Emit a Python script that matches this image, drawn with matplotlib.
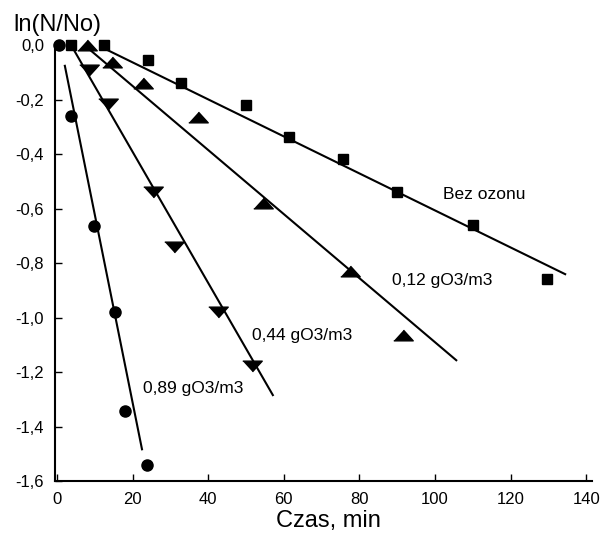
import matplotlib.pyplot as plt
from matplotlib.ticker import FuncFormatter

plt.rcParams['font.family'] = ['Liberation Sans', 'DejaVu Sans']

# measured points, ln(N/No) vs time [min]
t_bez = [3.7, 12.4, 24.1, 32.8, 50.0, 61.4, 75.7, 89.9, 110.0, 129.6]
y_bez = [0.0, 0.0, -0.053, -0.138, -0.219, -0.336, -0.417, -0.539, -0.66, -0.858]

t_012 = [7.9, 14.6, 22.8, 37.3, 54.5, 77.5, 91.5]
y_012 = [0.0, -0.06, -0.138, -0.263, -0.578, -0.828, -1.064]

t_044 = [8.5, 13.5, 25.4, 31.0, 42.6, 51.6]
y_044 = [-0.09, -0.215, -0.538, -0.74, -0.979, -1.178]

t_089 = [0.5, 3.7, 9.8, 15.3, 18.0, 23.8]
y_089 = [0.0, -0.259, -0.663, -0.979, -1.343, -1.542]

# fitted lines (start/end)
fit_bez = ([13.2, 134.4], [-0.016, -0.84])
fit_012 = ([8.2, 105.6], [-0.01, -1.156])
fit_044 = ([4.0, 57.1], [-0.005, -1.284])
fit_089 = ([2.1, 22.5], [-0.075, -1.483])

labels = ['Bez ozonu', '0,12 gO3/m3', '0,44 gO3/m3', '0,89 gO3/m3']
label_pos = [(102.1, -0.549), (88.6, -0.862), (51.6, -1.064), (22.8, -1.259)]

xticks = [0, 20, 40, 60, 80, 100, 120, 140]
yticks = [0.0, -0.2, -0.4, -0.6, -0.8, -1.0, -1.2, -1.4, -1.6]

tri_up = [(-1, -0.55), (1, -0.55), (0, 0.55)]
tri_dn = [(-1, 0.55), (1, 0.55), (0, -0.55)]

fig = plt.figure(figsize=(6, 5.37), dpi=100)
ax = fig.add_axes([0.0917, 0.104, 0.895, 0.814])

for fx, fy in [fit_bez, fit_012, fit_044, fit_089]:
    ax.plot(fx, fy, color='black', lw=1.5, clip_on=False)

ax.plot(t_bez, y_bez, 's', color='black', ms=7.5, clip_on=False)
ax.plot(t_012, y_012, marker=tri_up, ls='none', color='black', ms=14, clip_on=False)
ax.plot(t_044, y_044, marker=tri_dn, ls='none', color='black', ms=14, clip_on=False)
ax.plot(t_089, y_089, 'o', color='black', ms=8, clip_on=False)

for txt, (lx, ly) in zip(labels, label_pos):
    ax.text(lx, ly, txt, fontsize=12.5, ha='left', va='center')

ax.set_xlim(-0.5, 141.5)
ax.set_ylim(-1.6, 0.005)
ax.set_xticks(xticks)
ax.set_yticks(yticks)
comma = FuncFormatter(lambda v, p: ('%.1f' % v).replace('.', ','))
ax.yaxis.set_major_formatter(comma)
ax.spines['top'].set_visible(False)
ax.spines['right'].set_visible(False)
ax.spines['left'].set_linewidth(1.5)
ax.spines['bottom'].set_linewidth(1.5)
ax.tick_params(direction='in', length=5, width=1, labelsize=12)
ax.tick_params(axis='x', pad=8)
ax.tick_params(axis='y', pad=8)

fig.text(0.022, 0.953, 'ln(N/No)', fontsize=17, ha='left', va='center')
fig.text(0.547, 0.030, 'Czas, min', fontsize=17, ha='center', va='center')

fig.savefig('out.png', dpi=100)
